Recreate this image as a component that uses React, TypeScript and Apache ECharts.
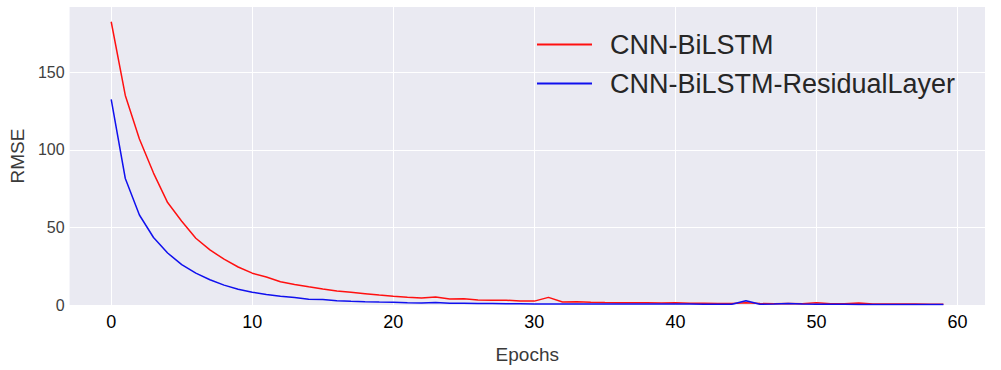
import React, { useEffect, useRef } from "react";
import * as echarts from "echarts";

const epochs: number[] = Array.from({ length: 60 }, (_, i) => i);

const cnnBiLSTM: number[] = [
  182.5, 135, 107, 85, 66, 54, 43, 35.5, 29.5, 24.5,
  20.5, 18, 15, 13.2, 11.7, 10.3, 9, 8.2, 7.3, 6.4,
  5.6, 5, 4.5, 5.1, 3.8, 4.1, 3.3, 3, 3.1, 2.6,
  2.5, 4.9, 1.9, 2.1, 1.8, 1.6, 1.5, 1.4, 1.4, 1.3,
  1.4, 1.1, 1.1, 1.0, 0.9, 1.5, 0.9, 0.8, 0.9, 0.8,
  1.5, 0.8, 0.8, 1.3, 0.7, 0.7, 0.6, 0.6, 0.5, 0.5,
];

const cnnBiLSTMResidual: number[] = [
  132.5, 81.5, 58, 43.5, 33.5, 26, 20.5, 16.3, 12.8, 10.2,
  8.2, 6.8, 5.6, 4.8, 3.7, 3.6, 2.8, 2.4, 2.1, 1.9,
  1.8, 1.5, 1.3, 1.6, 1.1, 1.1, 0.9, 0.9, 0.8, 0.8,
  0.7, 0.7, 0.6, 0.6, 0.6, 0.6, 0.6, 0.6, 0.6, 0.6,
  0.6, 0.6, 0.5, 0.5, 0.5, 2.8, 0.5, 0.6, 1.0, 0.6,
  0.5, 0.5, 0.5, 0.4, 0.4, 0.4, 0.4, 0.4, 0.4, 0.4,
];

const xTicks: number[] = [0, 10, 20, 30, 40, 50, 60];
const yTicks: number[] = [0, 50, 100, 150];

const seriesNames = ["CNN-BiLSTM", "CNN-BiLSTM-ResidualLayer"];

const FONT = "'Liberation Sans', Arial, sans-serif";

export default function App() {
  const ref = useRef<HTMLDivElement>(null);
  useEffect(() => {
    if (!ref.current) return;
    const chart = echarts.init(ref.current, undefined, { renderer: "svg" });
    chart.setOption({
      animation: false,
      backgroundColor: "#ffffff",
      grid: {
        left: 67,
        right: 16,
        top: 7,
        bottom: 65,
        show: true,
        backgroundColor: "#EAEAF2",
        borderWidth: 0,
      },
      legend: {
        orient: "vertical",
        left: 532,
        top: 26,
        itemWidth: 55,
        itemHeight: 2,
        itemGap: 12,
        icon: "rect",
        textStyle: {
          fontFamily: FONT,
          fontSize: 27,
          color: "#262626",
          padding: [0, 0, 0, 13],
        },
        data: seriesNames,
      },
      xAxis: {
        type: "value",
        min: -2.95,
        max: 61.95,
        name: "Epochs",
        nameLocation: "middle",
        nameGap: 40,
        nameTextStyle: { fontFamily: FONT, fontSize: 19, color: "#3a3a3a" },
        axisLine: { show: false },
        axisTick: { show: false, customValues: xTicks },
        axisLabel: {
          customValues: xTicks,
          fontFamily: FONT,
          fontSize: 18,
          color: "#000000",
          margin: 8,
        },
        splitLine: { show: true, lineStyle: { color: "#ffffff", width: 1 } },
      },
      yAxis: {
        type: "value",
        min: 0,
        max: 192,
        name: "RMSE",
        nameLocation: "middle",
        nameGap: 37,
        nameTextStyle: { fontFamily: FONT, fontSize: 19, color: "#3a3a3a" },
        axisLine: { show: false },
        axisTick: { show: false, customValues: yTicks },
        axisLabel: {
          customValues: yTicks,
          fontFamily: FONT,
          fontSize: 16,
          color: "#404040",
          margin: 5,
        },
        splitLine: { show: true, lineStyle: { color: "#ffffff", width: 1 } },
      },
      series: [
        {
          name: seriesNames[0],
          type: "line",
          data: epochs.map((e, i) => [e, cnnBiLSTM[i]]),
          showSymbol: false,
          symbol: "none",
          color: "#ff1010",
          lineStyle: { color: "#ff1010", width: 1.5 },
          z: 3,
        },
        {
          name: seriesNames[1],
          type: "line",
          data: epochs.map((e, i) => [e, cnnBiLSTMResidual[i]]),
          showSymbol: false,
          symbol: "none",
          color: "#1010ee",
          lineStyle: { color: "#1010ee", width: 1.5 },
          z: 4,
        },
      ],
    });
    return () => chart.dispose();
  }, []);
  return (
    <div
      ref={ref}
      style={{ position: "absolute", left: 0, top: 0, width: 1001, height: 370 }}
    />
  );
}
